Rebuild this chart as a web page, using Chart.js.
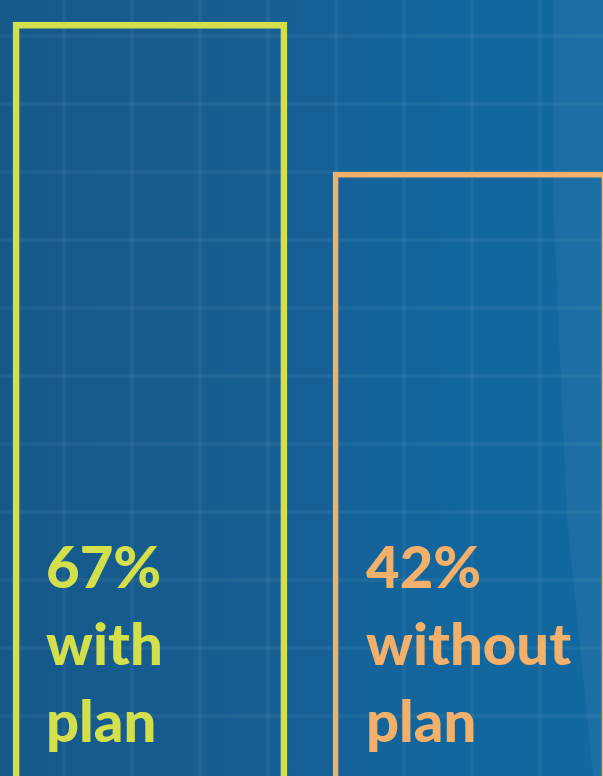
<!DOCTYPE html>
<html>
<head>
<meta charset="utf-8">
<script src="https://cdn.jsdelivr.net/npm/chart.js@4"></script>
<style>
  html, body { margin: 0; padding: 0; }
  body {
    width: 603px; height: 776px; overflow: hidden; position: relative;
    background:
      repeating-linear-gradient(90deg, transparent 0 62px, rgba(255,255,255,0.045) 62px 66px, transparent 66px 68px),
      repeating-linear-gradient(180deg, transparent 0 34px, rgba(255,255,255,0.045) 34px 38px, transparent 38px 68px),
      linear-gradient(90deg, #15598a 0%, #175e92 40%, #12669e 75%, #1268a0 100%);
  }
  .wedge {
    position: absolute; left: 0; top: 0; width: 603px; height: 776px;
    background: rgba(255,255,255,0.045);
    clip-path: polygon(553px 0, 603px 0, 603px 776px, 593px 776px, 567px 520px, 553px 200px);
  }
  .wrap { position: absolute; left: -10px; top: 0; width: 640px; height: 776px; }
</style>
</head>
<body>
<div class="wedge"></div>
<div class="wrap"><canvas id="myChart"></canvas></div>
<script>
const categories = ['with plan', 'without plan']
const shares = [67, 42]
const labelWords = [['with', 'plan'], ['without', 'plan']]
const barColors = ['#d3e04b', '#f2b06b']
const yMin = -58.7
const yMax = 70.7

const barText = {
  id: 'barText',
  afterDatasetsDraw(chart) {
    const ctx = chart.ctx
    const meta = chart.getDatasetMeta(0)
    const bottom = chart.chartArea.bottom
    ctx.save()
    ctx.font = '900 58px Lato, "Noto Sans", sans-serif'
    ctx.textBaseline = 'alphabetic'
    ctx.textAlign = 'left'
    meta.data.forEach((bar, i) => {
      const left = bar.x - bar.width / 2 + 33
      const lines = [shares[i] + '%'].concat(labelWords[i])
      ctx.fillStyle = barColors[i]
      lines.forEach((t, j) => {
        ctx.fillText(t, left, bottom - 188 + j * 77)
      })
    })
    ctx.restore()
  }
}

var ctx = document.getElementById('myChart').getContext('2d');
var myChart = new Chart(ctx, {
  type: 'bar',
  data: {
    labels: categories,
    datasets: [{
      data: shares,
      base: yMin,
      backgroundColor: 'rgba(0,0,0,0)',
      borderColor: barColors,
      borderWidth: [6, 5],
      borderSkipped: 'start',
      barThickness: 274
    }]
  },
  options: {
    responsive: true,
    maintainAspectRatio: false,
    animation: false,
    layout: { padding: 0 },
    scales: {
      x: { display: false },
      y: { display: false, min: yMin, max: yMax }
    },
    plugins: {
      legend: { display: false },
      tooltip: { enabled: false }
    }
  },
  plugins: [barText]
});
</script>
</body>
</html>
